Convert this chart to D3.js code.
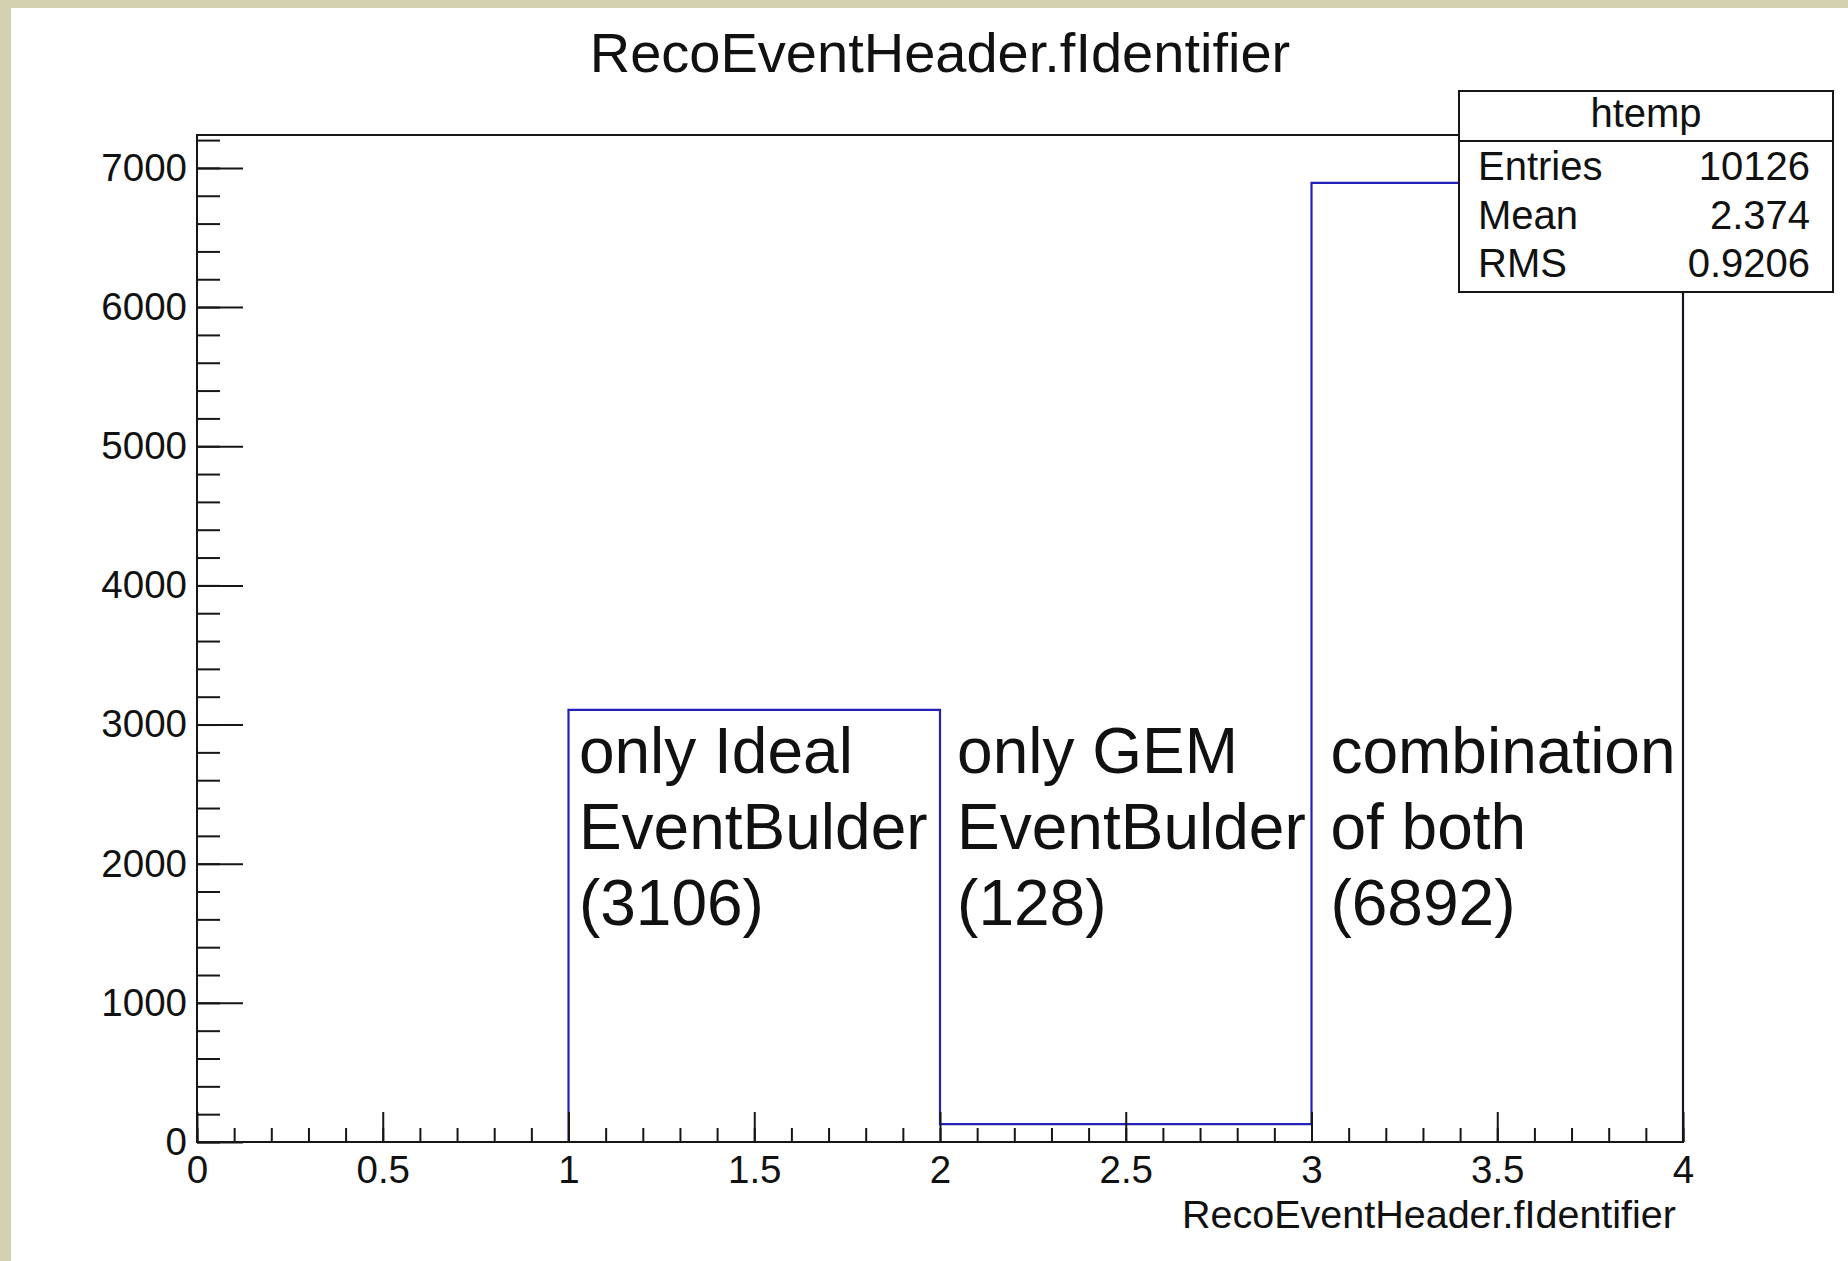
<!DOCTYPE html>
<html>
<head>
<meta charset="utf-8">
<script src="https://cdn.jsdelivr.net/npm/d3@7"></script>
<style>
  html, body { margin: 0; padding: 0; background: #ffffff; }
  svg { display: block; }
  text { font-family: "Liberation Sans", Arial, Helvetica, sans-serif; fill: #111; }
</style>
</head>
<body>
<svg id="chart" width="1848" height="1261"></svg>
<script>
// Histogram of RecoEventHeader.fIdentifier: bin edges and counts per bin
const binEdges = [0, 1, 2, 3, 4];
const binCounts = [0, 3106, 128, 6892];

// Axis tick values
const xMajorTicks = [0, 0.5, 1, 1.5, 2, 2.5, 3, 3.5, 4];
const xMajorLabels = ["0", "0.5", "1", "1.5", "2", "2.5", "3", "3.5", "4"];
const xMinorTicks = d3.range(0, 41).map(i => i / 10);
const yMajorTicks = [0, 1000, 2000, 3000, 4000, 5000, 6000, 7000];
const yMajorLabels = ["0", "1000", "2000", "3000", "4000", "5000", "6000", "7000"];
const yMinorTicks = d3.range(0, 37).map(i => i * 200);

// Text annotations placed inside the bins
const noteX = [1.028, 2.046, 3.051];
const noteLines = [
  ["only Ideal", "EventBulder", "(3106)"],
  ["only GEM", "EventBulder", "(128)"],
  ["combination", "of both", "(6892)"]
];

// Statistics box
const statsTitle = "htemp";
const statsNames = ["Entries", "Mean", "RMS"];
const statsValues = ["10126", "2.374", "0.9206"];

const titleText = "RecoEventHeader.fIdentifier";
const xAxisTitle = "RecoEventHeader.fIdentifier";

const W = 1848, H = 1261;
const frame = { left: 197, right: 1683, top: 135, bottom: 1142 };
const yMax = 1.05 * d3.max(binCounts);
const ink = "#161616";

const svg = d3.select("#chart");

// page background with a beige margin along the top and left edges
svg.append("rect").attr("x", 0).attr("y", 0).attr("width", W).attr("height", H).attr("fill", "#d4d1b0");
svg.append("rect").attr("x", 11).attr("y", 8).attr("width", W - 11).attr("height", H - 8).attr("fill", "#ffffff");

const x = d3.scaleLinear().domain([binEdges[0], binEdges[binEdges.length - 1]]).range([frame.left, frame.right]);
const y = d3.scaleLinear().domain([0, yMax]).range([frame.bottom, frame.top]);

// Histogram outline: a step line that starts and ends on the x axis
const last = binEdges.length - 1;
const outline = [{ x: binEdges[0], y: 0 }]
  .concat(binCounts.map((c, i) => ({ x: binEdges[i], y: c })))
  .concat([{ x: binEdges[last], y: binCounts[binCounts.length - 1] }, { x: binEdges[last], y: 0 }]);
svg.append("path")
  .attr("d", d3.line().x(d => x(d.x)).y(d => y(d.y)).curve(d3.curveStepAfter)(outline))
  .attr("fill", "none")
  .attr("stroke", "#2222bb")
  .attr("stroke-width", 2.2);

// Frame
svg.append("rect")
  .attr("x", frame.left).attr("y", frame.top)
  .attr("width", frame.right - frame.left).attr("height", frame.bottom - frame.top)
  .attr("fill", "none").attr("stroke", ink).attr("stroke-width", 2);

const tickFont = 38.5;

// X axis: minor ticks
const gxMinor = svg.append("g").attr("transform", `translate(0,${frame.bottom})`)
  .call(d3.axisBottom(x).tickValues(xMinorTicks).tickSizeInner(-14).tickSizeOuter(0).tickFormat(""));
// X axis: major ticks and labels
const gx = svg.append("g").attr("transform", `translate(0,${frame.bottom})`)
  .call(d3.axisBottom(x).tickValues(xMajorTicks).tickSizeInner(-30).tickSizeOuter(0).tickPadding(14)
    .tickFormat((d, i) => xMajorLabels[i]));

// Y axis: minor ticks
const gyMinor = svg.append("g").attr("transform", `translate(${frame.left},0)`)
  .call(d3.axisLeft(y).tickValues(yMinorTicks).tickSizeInner(-23).tickSizeOuter(0).tickFormat(""));
// Y axis: major ticks and labels
const gy = svg.append("g").attr("transform", `translate(${frame.left},0)`)
  .call(d3.axisLeft(y).tickValues(yMajorTicks).tickSizeInner(-46).tickSizeOuter(0).tickPadding(10)
    .tickFormat((d, i) => yMajorLabels[i]));

[gxMinor, gx, gyMinor, gy].forEach(g => {
  g.select(".domain").remove();
  g.selectAll(".tick line").attr("stroke", ink).attr("stroke-width", 2);
  g.selectAll(".tick text")
    .attr("fill", "#111")
    .style("font-family", '"Liberation Sans", Arial, Helvetica, sans-serif')
    .style("font-size", tickFont + "px");
});

// Title
svg.append("text")
  .attr("x", (frame.left + frame.right) / 2)
  .attr("y", 72)
  .attr("text-anchor", "middle")
  .style("font-size", "56px")
  .text(titleText);

// X axis title, right aligned at the end of the axis
svg.append("text")
  .attr("x", 1676)
  .attr("y", 1228)
  .attr("text-anchor", "end")
  .style("font-size", "39.5px")
  .text(xAxisTitle);

// Bin annotations
const noteBaseline = 773, noteStep = 76;
noteLines.forEach((lines, i) => {
  const t = svg.append("text").attr("x", x(noteX[i])).attr("y", noteBaseline).style("font-size", "64px").attr("fill", "#000");
  lines.forEach((s, j) => {
    t.append("tspan").attr("x", x(noteX[i])).attr("y", noteBaseline + j * noteStep).text(s);
  });
});

// Statistics box
const box = { left: 1459, right: 1833, top: 91, header: 141, bottom: 292 };
svg.append("rect")
  .attr("x", box.left).attr("y", box.top)
  .attr("width", box.right - box.left).attr("height", box.bottom - box.top)
  .attr("fill", "#ffffff").attr("stroke", ink).attr("stroke-width", 2);
svg.append("line")
  .attr("x1", box.left).attr("x2", box.right)
  .attr("y1", box.header).attr("y2", box.header)
  .attr("stroke", ink).attr("stroke-width", 2);
svg.append("text")
  .attr("x", (box.left + box.right) / 2).attr("y", 127)
  .attr("text-anchor", "middle")
  .style("font-size", "40px")
  .text(statsTitle);
const rowBaselines = [180, 229, 277];
statsNames.forEach((n, i) => {
  svg.append("text").attr("x", 1478).attr("y", rowBaselines[i]).style("font-size", "40px").text(n);
  svg.append("text").attr("x", 1810).attr("y", rowBaselines[i]).attr("text-anchor", "end").style("font-size", "40px").text(statsValues[i]);
});
</script>
</body>
</html>
